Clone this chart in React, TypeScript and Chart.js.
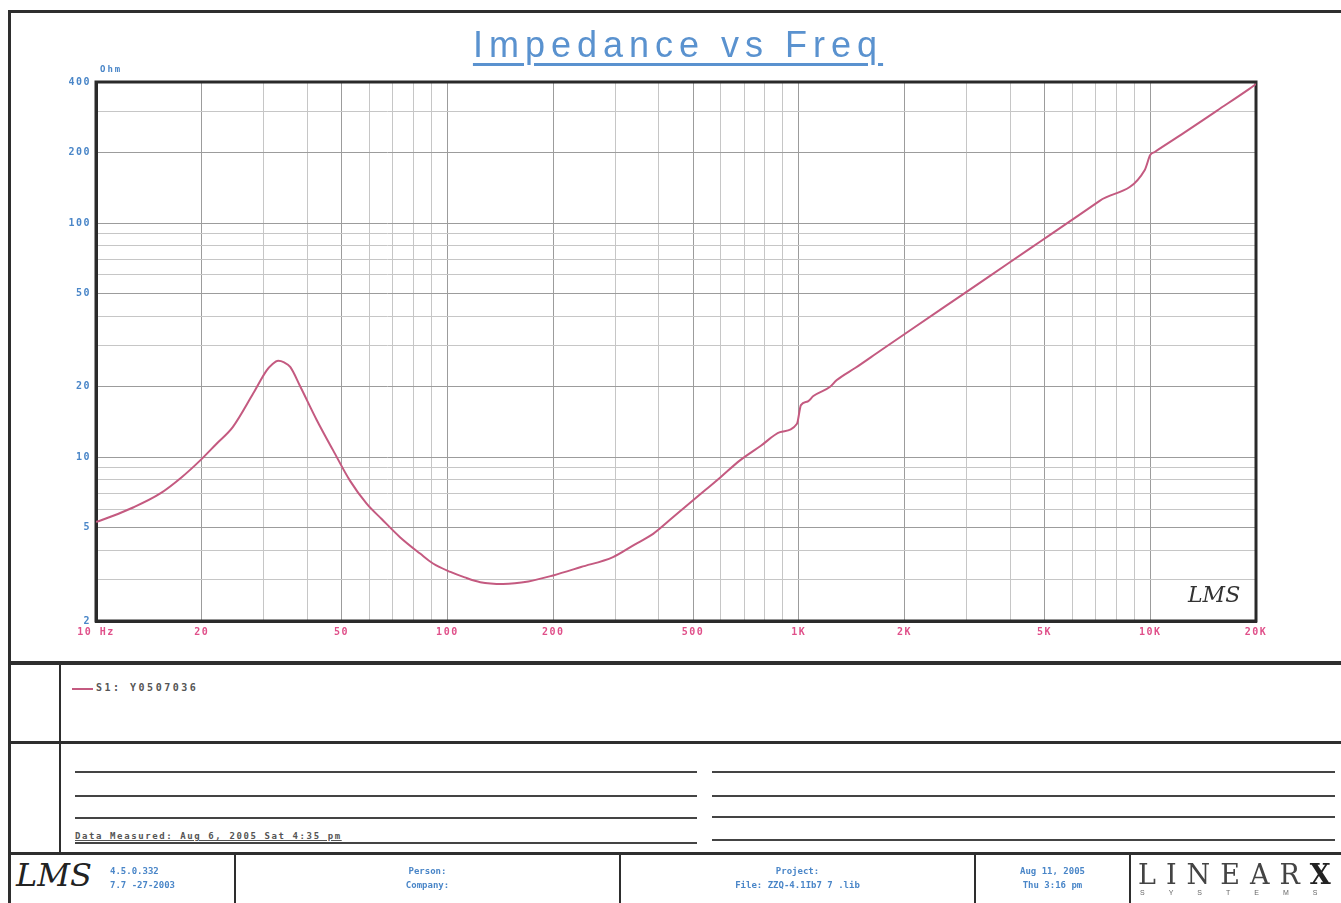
import React, { useEffect, useRef } from "react";
import { Chart, registerables } from "chart.js";

Chart.register(...registerables);

const freqHz = [
  10, 10.3, 12.8, 15.2, 17.5, 19.8, 22, 24.5, 28, 30.6, 31.7, 33, 34.3, 35.7,
  38.1, 42.5, 47.3, 52.8, 58.9, 65, 73.3, 83.6, 91, 102, 112, 124, 144, 170,
  200, 240, 296, 340, 385, 440, 513, 600, 680, 780, 884, 988, 1014, 1060, 1100,
  1225, 1280, 1450, 1705, 2100, 2628, 3500, 4555, 5200, 7180, 9650, 10000,
  10300, 12500, 15500, 19100, 20000,
];
const impedanceOhm = [
  5.3, 5.37, 6.12, 6.99, 8.2, 9.7, 11.4, 13.45, 18.7, 23.5, 24.9, 25.8, 25.4,
  24.3, 20.1, 14.4, 10.7, 7.95, 6.34, 5.45, 4.56, 3.88, 3.52, 3.24, 3.07, 2.93,
  2.88, 2.95, 3.13, 3.4, 3.75, 4.23, 4.71, 5.57, 6.76, 8.24, 9.7, 11.2, 12.8,
  13.9, 16.7, 17.3, 18.25, 19.95, 21.3, 24.1, 28.5, 35.3, 44.4, 59.5, 78, 89.2,
  124.4, 168.6, 195, 201, 243, 302, 373, 392,
];

// Axis tick labels
const xTickValues = [10, 20, 50, 100, 200, 500, 1000, 2000, 5000, 10000, 20000];
const xTickLabels = ["10 Hz", "20", "50", "100", "200", "500", "1K", "2K", "5K", "10K", "20K"];
const yTickValues = [2, 5, 10, 20, 50, 100, 200, 400];
const yTickLabels = ["2", "5", "10", "20", "50", "100", "200", "400"];

const seriesLabel = "S1: Y0507036";

function logGrid(min: number, max: number): number[] {
  const out: number[] = [];
  for (let k = -1; k < 6; k++) {
    for (let m = 1; m <= 9; m++) {
      const v = Math.round(m * Math.pow(10, k) * 1000) / 1000;
      if (v >= min - 1e-9 && v <= max + 1e-9) out.push(v);
    }
  }
  if (!out.some((v) => Math.abs(v - max) < 1e-9)) out.push(max);
  return out;
}

const xGrid = logGrid(10, 20000);
const yGrid = logGrid(2, 400);

function findIdx(list: number[], v: number) {
  return list.findIndex((t) => Math.abs(t - v) / t < 1e-6);
}

const plotFrame = {
  id: "plotFrame",
  beforeDraw(chart: any) {
    try {
      chart.ctx.letterSpacing = "1.5px";
    } catch (e) {}
  },
  beforeDatasetsDraw(chart: any) {
    const { ctx, chartArea } = chart;
    ctx.save();
    ctx.strokeStyle = "#2a2a2a";
    ctx.lineWidth = 3;
    ctx.strokeRect(
      chartArea.left,
      chartArea.top,
      chartArea.right - chartArea.left,
      chartArea.bottom - chartArea.top
    );
    ctx.restore();
  },
  afterDraw(chart: any) {
    try {
      chart.ctx.letterSpacing = "0px";
    } catch (e) {}
  },
};

const tickFont = { family: "DejaVu Sans Mono", size: 10, weight: "bold" as const };

function ImpedanceChart() {
  const ref = useRef<HTMLCanvasElement | null>(null);
  useEffect(() => {
    if (!ref.current) return;
    const chart = new Chart(ref.current, {
      type: "line",
      data: {
        datasets: [
          {
            label: seriesLabel,
            data: freqHz.map((f, i) => ({ x: f, y: impedanceOhm[i] })),
            borderColor: "#c45a80",
            borderWidth: 2,
            borderJoinStyle: "round",
            pointRadius: 0,
            cubicInterpolationMode: "monotone",
            fill: false,
          },
        ],
      },
      options: {
        animation: false,
        responsive: false,
        maintainAspectRatio: false,
        layout: { padding: { left: 36, right: 85, top: 82, bottom: 11 } },
        plugins: {
          legend: { display: false },
          tooltip: { enabled: false },
          title: { display: false },
        },
        scales: {
          x: {
            type: "logarithmic",
            min: 10,
            max: 20000,
            afterBuildTicks: (scale: any) => {
              scale.ticks = xGrid.map((v) => ({ value: v }));
            },
            afterFit: (scale: any) => {
              scale.height = 30;
            },
            ticks: {
              autoSkip: false,
              maxRotation: 0,
              minRotation: 0,
              padding: 5,
              color: "#e0508a",
              font: tickFont,
              callback: (value: any) => {
                const i = findIdx(xTickValues, Number(value));
                return i >= 0 ? xTickLabels[i] : "";
              },
            },
            grid: {
              drawTicks: false,
              lineWidth: 1,
              color: (ctx: any) =>
                ctx.tick && findIdx(xTickValues, ctx.tick.value) >= 0 ? "#9c9c9c" : "#c6c6c6",
            },
            border: { display: true, color: "#2a2a2a", width: 3 },
          },
          y: {
            type: "logarithmic",
            min: 2,
            max: 400,
            afterBuildTicks: (scale: any) => {
              scale.ticks = yGrid.map((v) => ({ value: v }));
            },
            afterFit: (scale: any) => {
              scale.width = 60;
            },
            ticks: {
              autoSkip: false,
              padding: 5,
              color: "#4a86c8",
              font: tickFont,
              callback: (value: any) => {
                const i = findIdx(yTickValues, Number(value));
                return i >= 0 ? yTickLabels[i] : "";
              },
            },
            grid: {
              drawTicks: false,
              lineWidth: 1,
              color: (ctx: any) =>
                ctx.tick && findIdx(yTickValues, ctx.tick.value) >= 0 ? "#9c9c9c" : "#c6c6c6",
            },
            border: { display: true, color: "#2a2a2a", width: 3 },
          },
        },
      },
      plugins: [plotFrame],
    } as any);
    return () => chart.destroy();
  }, []);
  return (
    <canvas
      ref={ref}
      width={1341}
      height={662}
      style={{ position: "absolute", left: 0, top: 0, width: 1341, height: 662 }}
    />
  );
}

const abs = (s: React.CSSProperties): React.CSSProperties => ({ position: "absolute", ...s });
const line = (left: number, top: number, width: number, height: number, bg = "#2e2e2e") => (
  <div style={abs({ left, top, width, height, background: bg })} />
);

const blueSmall: React.CSSProperties = {
  fontFamily: "DejaVu Sans Mono",
  fontWeight: "bold",
  fontSize: 9,
  color: "#4a86c8",
  lineHeight: "14px",
  whiteSpace: "nowrap",
};

export default function App() {
  return (
    <div
      style={{
        position: "fixed",
        left: 0,
        top: 0,
        width: 1341,
        height: 903,
        background: "#ffffff",
        overflow: "hidden",
        fontFamily: "Liberation Sans",
      }}
    >
      <ImpedanceChart />
      {/* Title */}
      <div
        style={abs({
          left: 0,
          width: 1356,
          top: 25,
          textAlign: "center",
          fontSize: 36,
          lineHeight: "40px",
          letterSpacing: 6,
          color: "#5a92cf",
          textDecoration: "underline",
          textUnderlineOffset: 6,
          fontFamily: "Liberation Sans",
        })}
      >
        Impedance vs Freq
      </div>
      <div style={abs({ left: 100, top: 62, ...blueSmall, letterSpacing: 2 })}>Ohm</div>
      <div
        style={abs({
          left: 1188,
          top: 582,
          fontSize: 22,
          fontStyle: "italic",
          fontFamily: "DejaVu Serif",
          color: "#333",
        })}
      >
        LMS
      </div>

      {/* Frame */}
      {line(8, 10, 1333, 3)}
      {line(8, 10, 3, 893)}
      {line(8, 661, 1333, 4)}
      {line(8, 741, 1333, 3)}
      {line(8, 852, 1333, 3)}
      {line(59, 665, 2, 187)}

      {/* Legend */}
      {line(72, 688, 21, 2, "#c45a80")}
      <div
        style={abs({ left: 96, top: 681, ...blueSmall, fontSize: 10, letterSpacing: 2.5, color: "#555" })}
      >
        {seriesLabel}
      </div>

      {/* Notes */}
      {line(75, 771, 622, 1.5, "#444")}
      {line(712, 771, 623, 1.5, "#444")}
      {line(75, 795, 622, 1.5, "#444")}
      {line(712, 795, 623, 1.5, "#444")}
      {line(75, 817, 622, 1.5, "#444")}
      {line(712, 816, 623, 1.5, "#444")}
      {line(75, 842, 622, 1.5, "#444")}
      {line(712, 839, 623, 1.5, "#444")}
      <div
        style={abs({
          left: 75,
          top: 829,
          ...blueSmall,
          fontSize: 9,
          letterSpacing: 1.6,
          color: "#555",
          textDecoration: "underline",
        })}
      >
        Data Measured: Aug 6, 2005 Sat 4:35 pm
      </div>

      {/* Footer */}
      {line(234, 855, 2, 48)}
      {line(619, 855, 2, 48)}
      {line(974, 855, 2, 48)}
      {line(1129, 855, 2, 48)}
      <div
        style={abs({
          left: 16,
          top: 856,
          fontSize: 32,
          fontStyle: "italic",
          fontFamily: "DejaVu Serif",
          color: "#222",
        })}
      >
        LMS
      </div>
      <div style={abs({ left: 110, top: 864, ...blueSmall })}>
        4.5.0.332
        <br />
        7.7 -27-2003
      </div>
      <div style={abs({ left: 236, width: 383, top: 864, textAlign: "center", ...blueSmall })}>
        Person:
        <br />
        Company:
      </div>
      <div style={abs({ left: 621, width: 353, top: 864, textAlign: "center", ...blueSmall })}>
        Project:
        <br />
        File: ZZQ-4.1Ib7 7 .lib
      </div>
      <div style={abs({ left: 976, width: 153, top: 864, textAlign: "center", ...blueSmall })}>
        Aug 11, 2005
        <br />
        Thu 3:16 pm
      </div>
      <div
        style={abs({
          left: 1138,
          top: 859,
          fontSize: 27,
          letterSpacing: 10,
          color: "#444",
          fontFamily: "DejaVu Serif",
          whiteSpace: "nowrap",
        })}
      >
        LINEAR<span style={{ fontWeight: "bold", color: "#222" }}>X</span>
      </div>
      <div
        style={abs({
          left: 1140,
          top: 889,
          fontSize: 7,
          letterSpacing: 24,
          color: "#666",
          whiteSpace: "nowrap",
        })}
      >
        SYSTEMS
      </div>
    </div>
  );
}
